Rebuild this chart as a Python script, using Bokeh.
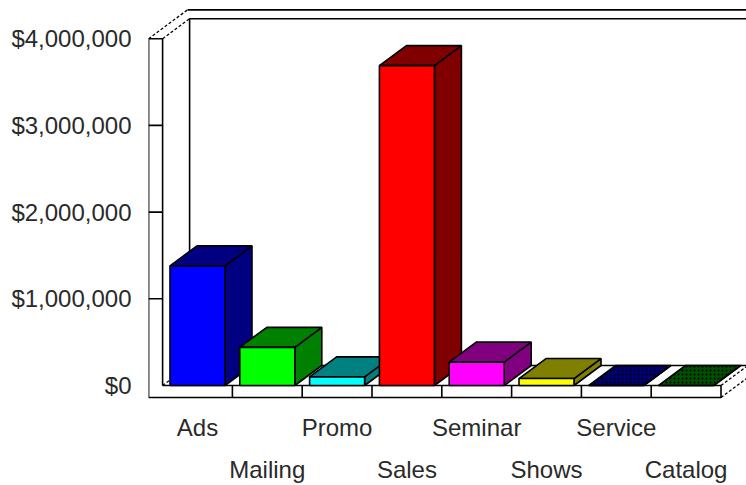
from bokeh.plotting import figure
from bokeh.models import Range1d, FixedTicker, NumeralTickFormatter, ColumnDataSource
from bokeh.core.properties import value
from bokeh.embed import file_html
from bokeh.resources import INLINE

# ---------------- data ----------------
categories = ["Ads", "Mailing", "Promo", "Sales", "Seminar", "Shows", "Service", "Catalog"]
values = [1380000, 440000, 100000, 3690000, 270000, 80000, 0, 0]
front_colors = ["#0000FF", "#00FF00", "#00FFFF", "#FF0000", "#FF00FF", "#FFFF00", "#000080", "#005800"]
shade_colors = ["#000080", "#008000", "#008080", "#800000", "#800080", "#808000", "#000070", "#005000"]
hatches = ["blank", "blank", "blank", "blank", "blank", "blank", "dot", "dot"]
y_ticks = [0, 1000000, 2000000, 3000000, 4000000]

# ---------------- layout constants ----------------
W, H = 746, 485
LEFT = 148            # left border (axis labels live here)
PX_PER_CAT = 69.8     # horizontal pixels per category
PX_PER_DOLLAR = 86.7 / 1e6
ZERO_ROW = 385        # pixel row of $0
FIRST_COL = 197       # pixel column of first category centre

UX = 1.0 / PX_PER_CAT       # data units per px (x)
UY = 1.0 / PX_PER_DOLLAR    # data units per px (y)

x_start = (LEFT - FIRST_COL) * UX
x_end = x_start + (W - LEFT) * UX
y_end = ZERO_ROW * UY
y_start = y_end - H * UY

BW = 55 * UX          # bar width
DX = 27 * UX          # depth offset x
DY = 20 * UY          # depth offset y
FLOOR_T = 12 * UY     # floor slab thickness
WALL_T = 14 * UX      # wall thickness
BACK = 1.44           # depth multiple of the back of the back wall

FONT = "Liberation Sans"
TXT = "#2a2a2a"

p = figure(width=W, height=H, output_backend="svg", toolbar_location=None,
           x_range=Range1d(x_start, x_end), y_range=Range1d(y_start, y_end),
           x_axis_location=None, min_border_left=LEFT, min_border_right=0,
           min_border_top=0, min_border_bottom=0)
p.grid.visible = False
p.outline_line_color = None
p.background_fill_color = "white"
p.border_fill_color = "white"

ax = p.yaxis[0]
ax.ticker = FixedTicker(ticks=y_ticks)
ax.formatter = NumeralTickFormatter(format="$0,0")
ax.axis_line_color = None
ax.major_tick_line_color = None
ax.minor_tick_line_color = None
ax.major_label_standoff = 11
ax.major_label_text_font = FONT
ax.major_label_text_font_size = "24px"
ax.major_label_text_color = TXT

n = len(categories)
xi = -0.5
xo = xi - WALL_T
xr = n - 0.5
top = y_ticks[-1]
far = x_end + 1

LW = 1.6
# ---- walls and floor (solid lines) ----
p.line([xi, xi, xo, xo, xr, xr, xi], [0, top, top, -FLOOR_T, -FLOOR_T, 0, 0],
       line_color="black", line_width=LW)
p.segment(x0=[i + 0.5 for i in range(n - 1)], y0=[0] * (n - 1),
          x1=[i + 0.5 for i in range(n - 1)], y1=[-FLOOR_T] * (n - 1),
          line_color="black", line_width=LW)
mid = y_ticks[1:-1]
p.segment(x0=[xo] * len(mid), y0=mid, x1=[xi] * len(mid), y1=mid,
          line_color="black", line_width=LW)
p.line([xi + DX, xi + DX, far], [DY, top + DY, top + DY], line_color="black", line_width=LW)
p.line([xo + BACK * DX, far], [top + BACK * DY, top + BACK * DY], line_color="black", line_width=LW)
p.line([xi + DX, far], [DY, DY], line_color="black", line_width=LW)
# dashed diagonals
dash = "3 2"
p.segment(x0=[xi, xo, xi, xr, xr], y0=[top, top, 0, 0, -FLOOR_T],
          x1=[xi + DX, xo + BACK * DX, xi + DX, xr + BACK * DX, xr + BACK * DX],
          y1=[top + DY, top + BACK * DY, DY, BACK * DY, -FLOOR_T + BACK * DY],
          line_color="black", line_width=1.3, line_dash=dash)

# ---- bars ----
xs, ys, fills, hts = [], [], [], []
for i, v in enumerate(values):
    l, r = i - BW / 2, i + BW / 2
    # side
    xs.append([r, r + DX, r + DX, r]); ys.append([0, DY, v + DY, v])
    fills.append(shade_colors[i]); hts.append(hatches[i])
    # top
    xs.append([l, r, r + DX, l + DX]); ys.append([v, v, v + DY, v + DY])
    fills.append(shade_colors[i]); hts.append(hatches[i])
    # front
    xs.append([l, r, r, l]); ys.append([0, 0, v, v])
    fills.append(front_colors[i]); hts.append("blank")

src = ColumnDataSource(dict(xs=xs, ys=ys, fill=fills, hatch=hts))
p.patches("xs", "ys", source=src, fill_color="fill", line_color="black", line_width=LW,
          hatch_pattern="hatch", hatch_color="black", hatch_scale=4, hatch_weight=1.5)

# ---- category labels (two staggered rows) ----
row_base = [-(427 - ZERO_ROW) * UY, -(469 - ZERO_ROW) * UY]
lab = ColumnDataSource(dict(x=list(range(n)), y=[row_base[i % 2] for i in range(n)], t=categories))
p.text("x", "y", text="t", source=lab, text_align="center", text_baseline="alphabetic",
       text_font=value(FONT), text_font_size=value("24px"), text_color=TXT)

open("out.html", "w").write(file_html(p, INLINE))
